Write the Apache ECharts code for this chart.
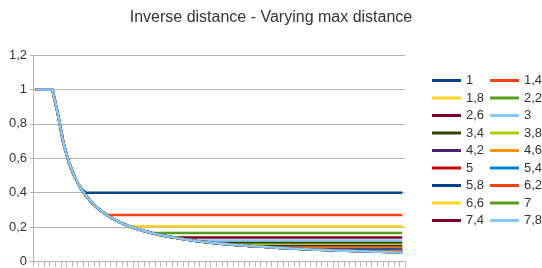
<!DOCTYPE html>
<html>
<head>
<meta charset="utf-8">
<script src="https://cdn.jsdelivr.net/npm/echarts@6/dist/echarts.min.js"></script>
<style>
  html, body { margin: 0; padding: 0; background: #fff; }
  #chart { width: 542px; height: 268px; }
</style>
</head>
<body>
<div id="chart"></div>
<script>
// series names (max distance)
const names = ['1', '1,4', '1,8', '2,2', '2,6', '3', '3,4', '3,8', '4,2', '4,6',
               '5', '5,4', '5,8', '6,2', '6,6', '7', '7,4', '7,8']
const colors = ['#004586', '#ff420e', '#ffd320', '#579d1c', '#7e0021', '#83caff',
                '#314004', '#aecf00', '#4b1f6f', '#ff950e', '#c5000b', '#0084d1',
                '#004586', '#ff420e', '#ffd320', '#579d1c', '#7e0021', '#83caff']

// shared falling curve (one value per x position)
const curve = [1, 1, 1, 1, 0.853, 0.685, 0.572, 0.491, 0.43, 0.383,
               0.345, 0.314, 0.288, 0.266, 0.247, 0.23, 0.216, 0.203, 0.192, 0.182,
               0.173, 0.165, 0.157, 0.151, 0.144, 0.139, 0.133, 0.128, 0.124, 0.119,
               0.115, 0.112, 0.108, 0.105, 0.102, 0.099, 0.096, 0.094, 0.091, 0.089,
               0.087, 0.085, 0.083, 0.081, 0.079, 0.077, 0.075, 0.074, 0.072, 0.071,
               0.069, 0.068, 0.067, 0.065, 0.064, 0.063, 0.062, 0.061, 0.06, 0.059,
               0.058, 0.057, 0.056, 0.055, 0.054, 0.053, 0.053]

// level each series stays at once the curve reaches it
const plateau = [0.4, 0.27, 0.205, 0.165, 0.14, 0.122, 0.108, 0.097, 0.088, 0.08,
                 0.073, 0.068, 0.063, 0.059, 0.055, 0.052, 0.049, 0.046]

const yTicks = [0, 0.2, 0.4, 0.6, 0.8, 1, 1.2]

const categories = curve.map((v, i) => String(i))

let myChart = echarts.init(document.getElementById('chart'))

const series = names.map((n, k) => ({
    name: n,
    type: 'line',
    symbol: 'none',
    color: colors[k],
    lineStyle: { width: 2.5, color: colors[k] },
    data: curve.map(v => Math.max(v, plateau[k]))
}))

const legendBase = {
    orient: 'vertical',
    top: 74,
    padding: 0,
    icon: 'rect',
    itemWidth: 29,
    itemHeight: 3,
    itemGap: 4.5,
    textStyle: { fontSize: 13, color: '#333', fontFamily: 'Liberation Sans' }
}

myChart.setOption({
    animation: false,
    textStyle: { fontFamily: 'Liberation Sans' },
    title: {
        text: 'Inverse distance - Varying max distance',
        left: 'center',
        top: 5,
        textStyle: { fontSize: 16, fontWeight: 'normal', color: '#333', fontFamily: 'Liberation Sans' }
    },
    legend: [
        Object.assign({}, legendBase, { left: 432, data: names.filter((n, i) => i % 2 === 0) }),
        Object.assign({}, legendBase, { left: 490, data: names.filter((n, i) => i % 2 === 1) })
    ],
    grid: { left: 33, right: 137, top: 55, bottom: 6 },
    xAxis: {
        type: 'category',
        data: categories,
        boundaryGap: true,
        axisLine: { lineStyle: { color: '#b3b3b3', width: 1 } },
        axisTick: { show: true, interval: 0, length: 5, lineStyle: { color: '#b3b3b3' } },
        axisLabel: { show: false }
    },
    yAxis: {
        type: 'value',
        min: yTicks[0],
        max: yTicks[yTicks.length - 1],
        interval: 0.2,
        axisLine: { show: true, lineStyle: { color: '#b3b3b3' } },
        axisTick: { show: true, length: 3, lineStyle: { color: '#b3b3b3' } },
        splitLine: { lineStyle: { color: '#b3b3b3' } },
        axisLabel: {
            fontSize: 13,
            color: '#333',
            margin: 6,
            formatter: v => Number(v.toFixed(1)).toString().replace('.', ',')
        }
    },
    series: series
})
</script>
</body>
</html>
